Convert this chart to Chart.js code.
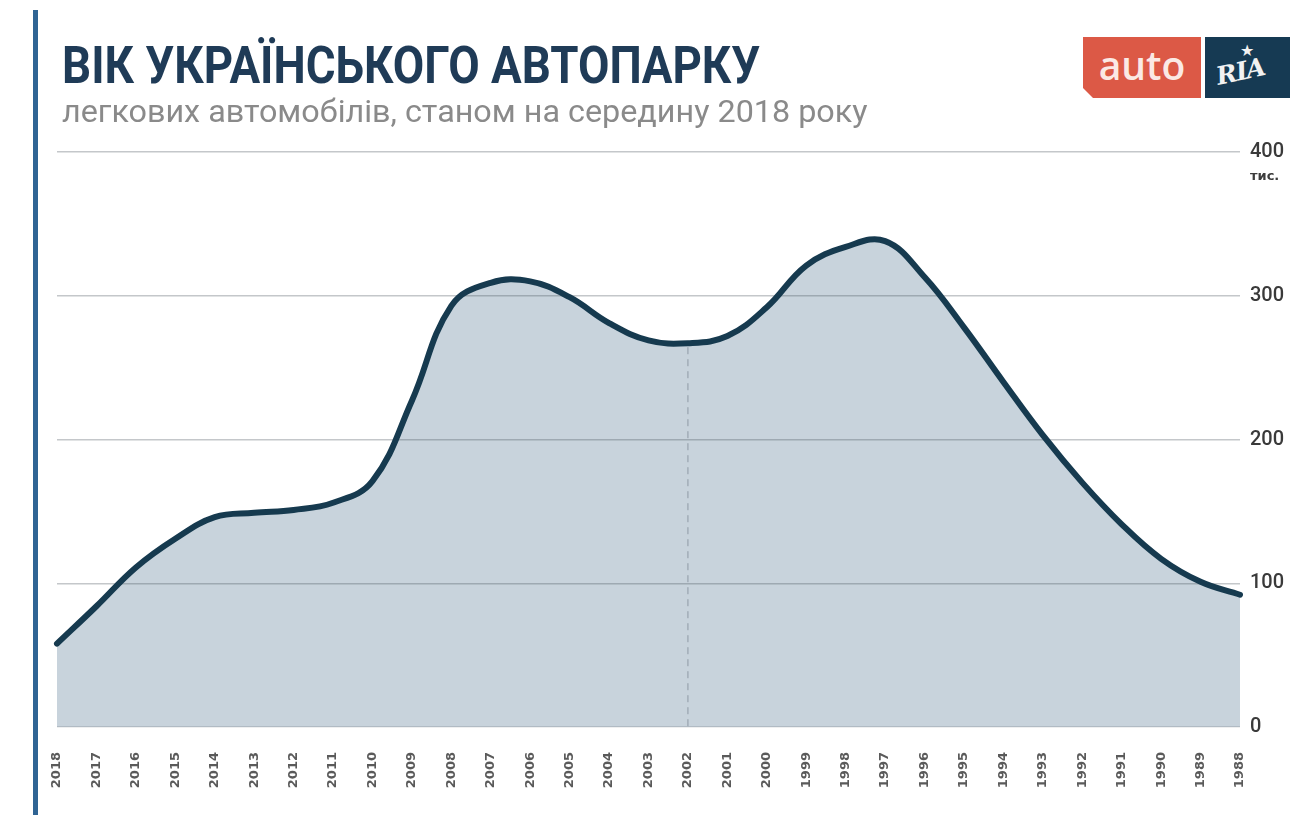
<!DOCTYPE html>
<html lang="uk">
<head>
<meta charset="utf-8">
<title>Вік українського автопарку</title>
<script src="https://cdn.jsdelivr.net/npm/chart.js@4.4.1/dist/chart.umd.min.js"></script>
<style>
  html, body { margin: 0; padding: 0; background: #ffffff; }
  #page { position: relative; width: 1305px; height: 818px; overflow: hidden; background: #fff; }
  #chart { position: absolute; left: 0; top: 0; }
  .accent { position: absolute; left: 33px; top: 10px; width: 5px; height: 805px; background: #2f6494; }
  .title, .subtitle { position: absolute; left: 62px; white-space: nowrap; transform-origin: 0 0; font-family: Roboto, "Noto Sans", sans-serif; }
  .title { top: 40px; font-size: 52px; line-height: 52px; font-weight: 700; color: #1f3b57; }
  .subtitle { top: 96px; font-size: 31px; line-height: 31px; font-weight: 400; color: #8a8a8a; }
  .logo-auto { position: absolute; left: 1083px; top: 37px; width: 118px; height: 61px; background: #dc5946;
    clip-path: polygon(0 0, 100% 0, 100% 100%, 10px 100%, 0 calc(100% - 10px));
    color: #fbe9e5; font-family: "Open Sans", Roboto, sans-serif; font-size: 39px; font-weight: 600; line-height: 56px; text-align: center; }
  .logo-ria { position: absolute; left: 1205px; top: 37px; width: 85px; height: 61px; background: #163a53; overflow: hidden; }
  .logo-ria .word { position: absolute; left: 11px; top: 22px; transform: rotate(-12deg); color: #f2f2f2;
    font-family: "DejaVu Serif", "Liberation Serif", serif; font-weight: 700; font-style: italic; font-size: 25px; line-height: 25px; letter-spacing: -1px; }
  .logo-ria .star { position: absolute; left: 35px; top: 6px; color: #f2f2f2; font-size: 16px; line-height: 16px; font-family: "DejaVu Sans", sans-serif; }
</style>
</head>
<body>
<div id="page">
  <canvas id="chart" width="1305" height="818"></canvas>
  <div class="accent"></div>
  <div class="title" data-w="698">ВІК УКРАЇНСЬКОГО АВТОПАРКУ</div>
  <div class="subtitle" data-w="806">легкових автомобілів, станом на середину 2018 року</div>
  <div class="logo-auto">auto</div>
  <div class="logo-ria"><span class="star">★</span><span class="word">RIA</span></div>
</div>
<script>
// Year of manufacture, newest to oldest
const years = ['2018', '2017', '2016', '2015', '2014', '2013', '2012', '2011', '2010', '2009',
               '2008', '2007', '2006', '2005', '2004', '2003', '2002', '2001', '2000', '1999',
               '1998', '1997', '1996', '1995', '1994', '1993', '1992', '1991', '1990', '1989', '1988'];

// Passenger cars in the fleet, thousands
const carsThousands = [58, 84, 111, 131, 146, 149, 151, 156, 171, 227,
                       293, 309, 310, 299, 281, 269, 267, 272, 292, 321,
                       334, 338, 313, 278, 240, 203, 170, 141, 117, 101, 92];

// Value-axis ticks and the year marked with a dashed guide
const yTicks = [0, 100, 200, 300, 400];
const markedYear = '2002';
const unitLabel = 'тис.';

// Fit the headline texts to their set widths (condensed look)
document.querySelectorAll('[data-w]').forEach(el => {
  const natural = el.scrollWidth;
  const target = parseFloat(el.dataset.w);
  el.style.transform = 'scaleX(' + (target / natural) + ')';
});

// Dashed vertical guide from the marked year's point down to zero
const guidePlugin = {
  id: 'yearGuide',
  beforeDatasetsDraw(chart) {
    const idx = years.indexOf(markedYear);
    if (idx < 0) return;
    const x = chart.scales.x.getPixelForValue(idx);
    const yTop = chart.scales.y.getPixelForValue(carsThousands[idx]);
    const yBottom = chart.scales.y.getPixelForValue(0);
    const ctx = chart.ctx;
    ctx.save();
    ctx.strokeStyle = '#8e9ba5';
    ctx.lineWidth = 1;
    ctx.setLineDash([7, 5]);
    ctx.beginPath();
    ctx.moveTo(x, yTop + 4);
    ctx.lineTo(x, yBottom);
    ctx.stroke();
    ctx.restore();
  }
};

// Unit caption under the top value tick
const unitPlugin = {
  id: 'unitCaption',
  afterDraw(chart) {
    const y = chart.scales.y.getPixelForValue(yTicks[yTicks.length - 1]);
    const ctx = chart.ctx;
    ctx.save();
    ctx.fillStyle = '#3d3d3d';
    ctx.font = 'bold 13px "DejaVu Sans", sans-serif';
    ctx.textBaseline = 'middle';
    ctx.textAlign = 'left';
    ctx.fillText(unitLabel, chart.chartArea.right + 10, y + 25);
    ctx.restore();
  }
};

new Chart(document.getElementById('chart'), {
  type: 'line',
  data: {
    labels: years,
    datasets: [{
      data: carsThousands,
      borderColor: '#163a4f',
      borderWidth: 6,
      borderCapStyle: 'round',
      borderJoinStyle: 'round',
      backgroundColor: '#c8d3dc',
      fill: 'origin',
      tension: 0.4,
      pointRadius: 0,
      pointHoverRadius: 0,
      clip: false
    }]
  },
  options: {
    responsive: false,
    animation: false,
    events: [],
    layout: { padding: { left: 57, right: 0, top: 152, bottom: 0 } },
    plugins: {
      legend: { display: false },
      tooltip: { enabled: false },
      filler: { drawTime: 'beforeDraw' }
    },
    scales: {
      x: {
        type: 'category',
        offset: false,
        grid: { display: false, drawTicks: false },
        border: { display: false },
        ticks: {
          autoSkip: false,
          minRotation: 90,
          maxRotation: 90,
          padding: 25,
          color: '#5a5a5a',
          font: { family: '"DejaVu Sans", sans-serif', size: 13, weight: 'bold' }
        },
        afterFit(scale) { scale.height = 91; }
      },
      y: {
        position: 'right',
        min: yTicks[0],
        max: yTicks[yTicks.length - 1],
        afterBuildTicks(scale) { scale.ticks = yTicks.map(v => ({ value: v })); },
        grid: {
          color: ctx => ctx.tick && ctx.tick.value === 0 ? 'rgba(70, 80, 90, 0.18)' : 'rgba(70, 80, 90, 0.32)',
          lineWidth: 1.5,
          drawTicks: false
        },
        border: { display: false },
        ticks: {
          padding: 10,
          color: '#3a3a3a',
          font: { family: 'Roboto, sans-serif', size: 20, weight: '500' }
        },
        afterFit(scale) { scale.width = 65; }
      }
    }
  },
  plugins: [guidePlugin, unitPlugin]
});
</script>
</body>
</html>
